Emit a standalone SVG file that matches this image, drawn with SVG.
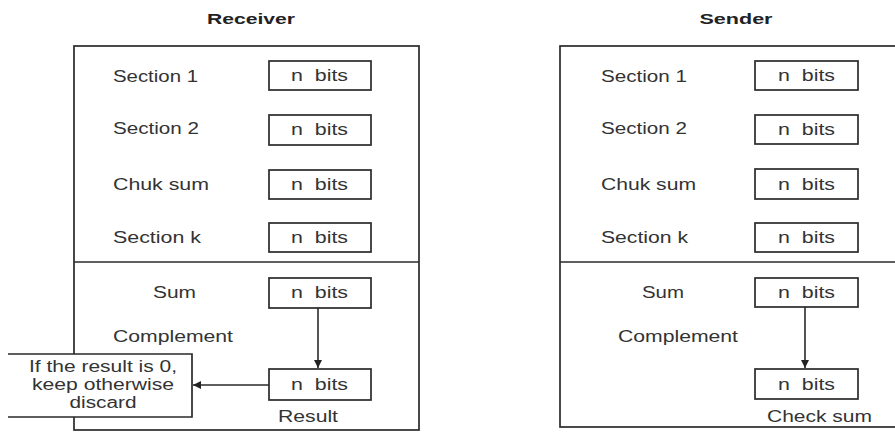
<svg xmlns="http://www.w3.org/2000/svg" width="895" height="433" viewBox="0 0 895 433">
<defs>
<style>
text{font-family:"Liberation Sans",Arial,sans-serif;font-size:16px;fill:#333}
.t{font-weight:bold;font-size:14px;fill:#222}
.c{text-anchor:middle}
.nt{white-space:pre}
.box{fill:none;stroke:#2a2a2a;stroke-width:1.7}
.nb{fill:#fff;stroke:#2a2a2a;stroke-width:1.7}
.ln{stroke:#2a2a2a;stroke-width:1.6;fill:none}
</style>
<marker id="ah" viewBox="0 0 10 10" refX="10" refY="5" markerWidth="8" markerHeight="8" markerUnits="userSpaceOnUse" orient="auto">
<path d="M0,0 L10,5 L0,10 z" fill="#222"/>
</marker>
</defs>
<rect width="895" height="433" fill="#fff"/>

<g id="receiver">
<text class="t c" x="251" y="24" textLength="88" lengthAdjust="spacingAndGlyphs">Receiver</text>
<rect class="box" x="74" y="46" width="345" height="384"/>
<line class="ln" x1="74" y1="262" x2="419" y2="262"/>
<text x="113" y="82" textLength="85" lengthAdjust="spacingAndGlyphs">Section 1</text>
<text x="113" y="134" textLength="86" lengthAdjust="spacingAndGlyphs">Section 2</text>
<text x="113" y="190" textLength="96" lengthAdjust="spacingAndGlyphs">Chuk sum</text>
<text x="113" y="243" textLength="88" lengthAdjust="spacingAndGlyphs">Section k</text>
<text x="153" y="298" textLength="43" lengthAdjust="spacingAndGlyphs">Sum</text>
<text x="113" y="342" textLength="120" lengthAdjust="spacingAndGlyphs">Complement</text>
<text x="278" y="422" textLength="60" lengthAdjust="spacingAndGlyphs">Result</text>
</g>

<g id="r-s1"><rect class="nb" x="269" y="61" width="102" height="29"/><text class="nt" x="291" y="81" textLength="57" lengthAdjust="spacingAndGlyphs">n  bits</text></g>
<g id="r-s2"><rect class="nb" x="269" y="115" width="102" height="30"/><text class="nt" x="291" y="135" textLength="57" lengthAdjust="spacingAndGlyphs">n  bits</text></g>
<g id="r-ck"><rect class="nb" x="269" y="170" width="102" height="29"/><text class="nt" x="291" y="190" textLength="57" lengthAdjust="spacingAndGlyphs">n  bits</text></g>
<g id="r-sk"><rect class="nb" x="269" y="223" width="102" height="29"/><text class="nt" x="291" y="243" textLength="57" lengthAdjust="spacingAndGlyphs">n  bits</text></g>
<g id="r-sum"><rect class="nb" x="269" y="278" width="102" height="30"/><text class="nt" x="291" y="298" textLength="57" lengthAdjust="spacingAndGlyphs">n  bits</text></g>
<g id="r-res"><rect class="nb" x="269" y="369" width="102" height="31"/><text class="nt" x="291" y="390" textLength="57" lengthAdjust="spacingAndGlyphs">n  bits</text></g>

<g id="callout">
<path d="M8,354 H192 V417 H8" fill="#fff" stroke="#2a2a2a" stroke-width="1.7"/>
<text class="c" x="103" y="372" textLength="148" lengthAdjust="spacingAndGlyphs">If the result is 0,</text>
<text class="c" x="103" y="390" textLength="142" lengthAdjust="spacingAndGlyphs">keep otherwise</text>
<text class="c" x="103" y="408" textLength="67" lengthAdjust="spacingAndGlyphs">discard</text>
</g>

<g id="sender">
<text class="t c" x="736" y="24" textLength="73" lengthAdjust="spacingAndGlyphs">Sender</text>
<rect class="box" x="560" y="46" width="345" height="381"/>
<line class="ln" x1="560" y1="262" x2="895" y2="262"/>
<text x="601" y="82" textLength="86" lengthAdjust="spacingAndGlyphs">Section 1</text>
<text x="601" y="134" textLength="86" lengthAdjust="spacingAndGlyphs">Section 2</text>
<text x="601" y="190" textLength="95" lengthAdjust="spacingAndGlyphs">Chuk sum</text>
<text x="601" y="243" textLength="87" lengthAdjust="spacingAndGlyphs">Section k</text>
<text x="642" y="298" textLength="42" lengthAdjust="spacingAndGlyphs">Sum</text>
<text x="618" y="342" textLength="120" lengthAdjust="spacingAndGlyphs">Complement</text>
<text x="767" y="422" textLength="105" lengthAdjust="spacingAndGlyphs">Check sum</text>
</g>

<g id="s-s1"><rect class="nb" x="755" y="61" width="103" height="29"/><text class="nt" x="778" y="81" textLength="57" lengthAdjust="spacingAndGlyphs">n  bits</text></g>
<g id="s-s2"><rect class="nb" x="755" y="115" width="103" height="29"/><text class="nt" x="778" y="135" textLength="57" lengthAdjust="spacingAndGlyphs">n  bits</text></g>
<g id="s-ck"><rect class="nb" x="755" y="169" width="103" height="30"/><text class="nt" x="778" y="190" textLength="57" lengthAdjust="spacingAndGlyphs">n  bits</text></g>
<g id="s-sk"><rect class="nb" x="755" y="223" width="103" height="29"/><text class="nt" x="778" y="243" textLength="57" lengthAdjust="spacingAndGlyphs">n  bits</text></g>
<g id="s-sum"><rect class="nb" x="755" y="278" width="103" height="29"/><text class="nt" x="778" y="298" textLength="57" lengthAdjust="spacingAndGlyphs">n  bits</text></g>
<g id="s-cs"><rect class="nb" x="755" y="369" width="103" height="30"/><text class="nt" x="778" y="390" textLength="57" lengthAdjust="spacingAndGlyphs">n  bits</text></g>

<g id="connectors">
<line class="ln" x1="318" y1="308" x2="318" y2="368" marker-end="url(#ah)"/>
<line class="ln" x1="269" y1="385" x2="193" y2="385" marker-end="url(#ah)"/>
<line class="ln" x1="805" y1="307" x2="805" y2="368" marker-end="url(#ah)"/>
</g>
</svg>
